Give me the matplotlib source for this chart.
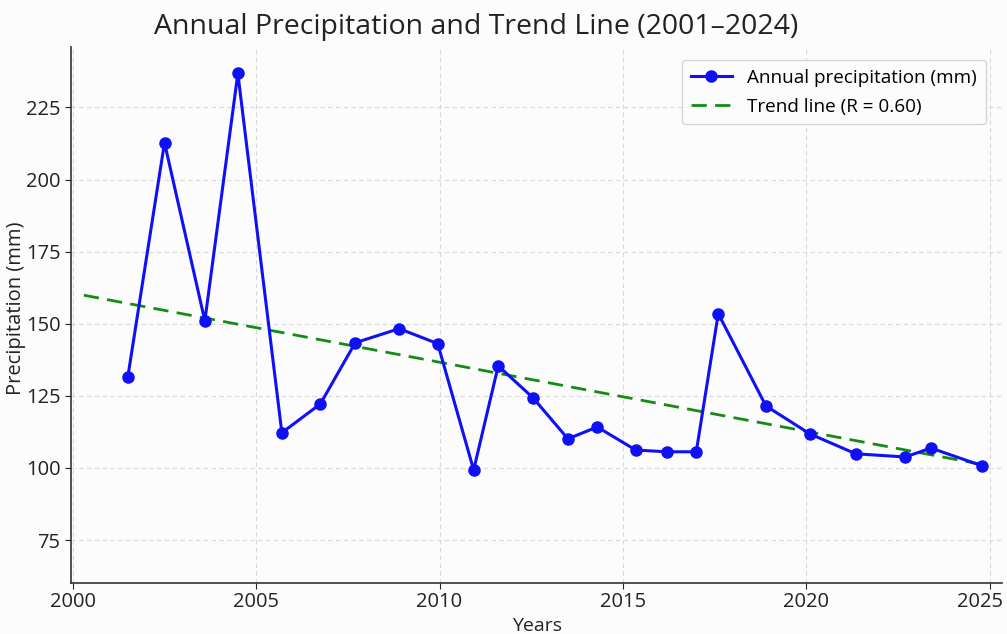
import matplotlib
matplotlib.use("Agg")
import matplotlib.pyplot as plt
import matplotlib.transforms as mtransforms

years = [2001.5, 2002.5, 2003.6, 2004.5, 2005.7, 2006.75, 2007.7, 2008.9, 2009.95,
         2010.93, 2011.6, 2012.55, 2013.5, 2014.3, 2015.35, 2016.2, 2017.0, 2017.6,
         2018.9, 2020.1, 2021.35, 2022.7, 2023.4, 2024.8]
precip = [131.6, 212.8, 151.0, 236.8, 112.2, 122.2, 143.4, 148.3, 143.1,
          99.3, 135.4, 124.3, 110.1, 114.2, 106.2, 105.6, 105.6, 153.5,
          121.5, 111.8, 104.9, 103.8, 106.9, 100.7]
trend_x = [2000.3, 2024.8]
trend_y = [159.9, 101.2]
xticks = [2000, 2005, 2010, 2015, 2020, 2025]
yticks = [75, 100, 125, 150, 175, 200, 225]

plt.rcParams['font.family'] = ['Open Sans', 'DejaVu Sans']

fig = plt.figure(figsize=(10.07, 6.34), dpi=100, facecolor='#fcfcfc')
ax = fig.add_axes([0.0705, 0.080, 0.925, 0.846])
ax.set_facecolor('#fcfcfc')

ax.plot(years, precip, color='#1010f5', lw=2.2, marker='o', markersize=8,
        label='Annual precipitation (mm)', zorder=3)
ax.plot(trend_x, trend_y, color='#148c14', lw=2.0, ls=(0, (5.5, 3)),
        label='Trend line (R = 0.60)', zorder=2)

ax.set_xlim(1999.95, 2025.35)
ax.set_ylim(60, 246)
ax.set_xticks(xticks)
ax.set_yticks(yticks)
ax.tick_params(labelsize=14.5, colors='#222222', length=4)
ax.tick_params(axis='x', pad=2)
ax.grid(True, color='#d8d8d8', ls=(0, (4, 3)), lw=0.8)
for s in ['top', 'right']:
    ax.spines[s].set_visible(False)
for s in ['left', 'bottom']:
    ax.spines[s].set_color('#333333')
    ax.spines[s].set_linewidth(1.2)

last = ax.get_xticklabels()[-1]
last.set_transform(last.get_transform() +
                   mtransforms.ScaledTranslation(-10 / 100, 0, fig.dpi_scale_trans))

ax.set_xlabel('Years', fontsize=14, color='#222222', labelpad=4)
ax.set_ylabel('Precipitation (mm)', fontsize=14.5, color='#222222')
ax.yaxis.set_label_coords(-0.0485, 0.513)
fig.text(0.473, 0.958, 'Annual Precipitation and Trend Line (2001–2024)',
         ha='center', va='center', fontsize=20.5, color='#222222')

leg = ax.legend(loc='upper right', fontsize=13.6, frameon=True, fancybox=True,
                bbox_to_anchor=(0.992, 0.993), handlelength=2.2, borderpad=0.45,
                labelspacing=0.6)
leg.get_frame().set_edgecolor('#cccccc')
leg.get_frame().set_facecolor('#fdfdfd')

fig.savefig('out.png', dpi=100, facecolor=fig.get_facecolor())
